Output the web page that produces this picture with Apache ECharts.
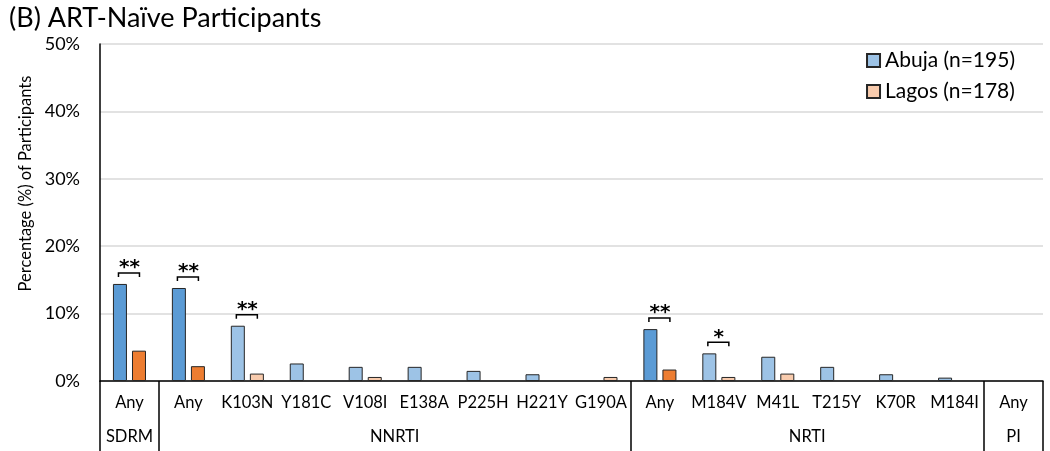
<!DOCTYPE html>
<html>
<head>
<meta charset="utf-8">
<script src="https://cdn.jsdelivr.net/npm/echarts@6/dist/echarts.min.js"></script>
<style>
  html, body { margin: 0; padding: 0; background: #fff; }
  #chart { width: 1050px; height: 451px; }
</style>
</head>
<body>
<div id="chart"></div>
<script>
// mutation categories, in axis order
const categories = ['Any', 'Any', 'K103N', 'Y181C', 'V108I', 'E138A', 'P225H', 'H221Y', 'G190A',
  'Any', 'M184V', 'M41L', 'T215Y', 'K70R', 'M184I', 'Any'];
const groups = ['SDRM', 'NNRTI', 'NRTI', 'PI'];
const groupSizes = [1, 8, 6, 1];

// percentage of participants
const abuja = [14.4, 13.8, 8.2, 2.6, 2.1, 2.1, 1.5, 1.0, 0, 7.7, 4.1, 3.6, 2.1, 1.0, 0.5, 0];
const lagos = [4.5, 2.2, 1.1, 0, 0.6, 0, 0, 0, 0.6, 1.7, 0.6, 1.1, 0, 0, 0, 0];

// significance markers (category index + stars)
const sigIndex = [0, 1, 2, 9, 10];
const sigMarks = ['**', '**', '**', '**', '*'];

const FONT = 'Lato';
const abujaLight = '#9DC3E6', abujaDark = '#5B9BD5';
const lagosLight = '#F8CBAD', lagosDark = '#ED7D31';

// group boundaries and label centres on a 0..16 scale
const bounds = [0];
groupSizes.forEach(s => bounds.push(bounds[bounds.length - 1] + s));
const groupCenters = groups.map((g, i) => bounds[i] + groupSizes[i] / 2);

const toBars = (vals, light, dark) => vals.map((v, i) => ({
  value: v === 0 ? '-' : v,
  itemStyle: { color: categories[i] === 'Any' ? dark : light },
}));

const myChart = echarts.init(document.getElementById('chart'));
const option = {
  animation: false,
  title: {
    text: '(B) ART-Naïve Participants',
    left: 4,
    top: 0,
    textStyle: { fontFamily: FONT, fontSize: 27, fontWeight: 'normal', color: '#000' },
  },
  legend: {
    data: ['Abuja (n=195)', 'Lagos (n=178)'],
    orient: 'vertical',
    right: 30,
    top: 45,
    itemGap: 10,
    itemWidth: 13,
    itemHeight: 13,
    icon: 'rect',
    textStyle: { fontFamily: FONT, fontSize: 21, color: '#000' },
  },
  grid: { left: 100, right: 7, top: 44, bottom: 70 },
  xAxis: [
    {
      type: 'category',
      data: categories,
      axisLine: { lineStyle: { color: '#000', width: 1.5 } },
      axisTick: { show: false },
      axisLabel: { interval: 0, margin: 13, fontFamily: FONT, fontSize: 16.5, color: '#000' },
    },
    {
      type: 'value',
      min: 0,
      max: bounds[bounds.length - 1],
      position: 'bottom',
      axisLine: { show: false },
      splitLine: { show: false },
      axisTick: { show: true, customValues: bounds, length: 75, lineStyle: { color: '#000', width: 1.5 } },
      axisLabel: {
        customValues: groupCenters,
        formatter: v => groups[groupCenters.indexOf(v)] || '',
        margin: 47,
        fontFamily: FONT, fontSize: 16.5, color: '#000',
      },
    },
  ],
  yAxis: {
    type: 'value',
    min: 0,
    max: 50,
    interval: 10,
    name: 'Percentage (%) of Participants',
    nameLocation: 'middle',
    nameGap: 66,
    nameTextStyle: { fontFamily: FONT, fontSize: 16.5, color: '#000', padding: [0, 0, 0, 58] },
    axisLine: { show: true, lineStyle: { color: '#000', width: 1.5 } },
    axisTick: { show: false },
    axisLabel: { margin: 20, formatter: '{value}%', fontFamily: FONT, fontSize: 18, color: '#000' },
    splitLine: { lineStyle: { color: '#d9d9d9', width: 1.5 } },
  },
  series: [
    {
      name: 'Abuja (n=195)',
      type: 'bar',
      barWidth: 14,
      barGap: '36%',
      itemStyle: { color: abujaLight, borderColor: '#262626', borderWidth: 1 },
      data: toBars(abuja, abujaLight, abujaDark),
    },
    {
      name: 'Lagos (n=178)',
      type: 'bar',
      barWidth: 14,
      itemStyle: { color: lagosLight, borderColor: '#262626', borderWidth: 1 },
      data: toBars(lagos, lagosLight, lagosDark),
    },
    {
      type: 'custom',
      silent: true,
      data: sigIndex.map(i => [i, abuja[i]]),
      encode: { x: 0, y: 1 },
      renderItem: (params, api) => {
        const p = api.coord([api.value(0), api.value(1)]);
        const x = p[0];
        const y = p[1] - 11;
        return {
          type: 'group',
          children: [
            {
              type: 'polyline',
              shape: { points: [[x - 11, y + 4], [x - 11, y], [x + 10, y], [x + 10, y + 4]] },
              style: { stroke: '#000', lineWidth: 1.5, fill: null },
            },
            {
              type: 'text',
              style: {
                text: sigMarks[params.dataIndex],
                x: x,
                y: y - 15,
                align: 'center',
                verticalAlign: 'top',
                font: 'bold 20px "DejaVu Sans"',
                fill: '#000',
              },
            },
          ],
        };
      },
    },
  ],
};
myChart.setOption(option);
window.addEventListener('resize', myChart.resize);
</script>
</body>
</html>
